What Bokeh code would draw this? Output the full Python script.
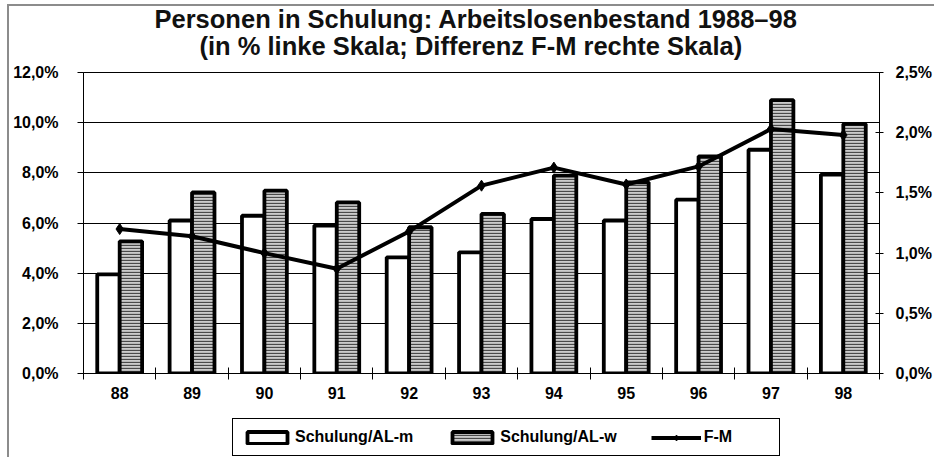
from bokeh.plotting import figure
from bokeh.layouts import column
from bokeh.models import (Range1d, LinearAxis, FixedTicker, CustomJSTickFormatter,
                          ColumnDataSource, Legend, LegendItem, Title)
from bokeh.transform import dodge
from bokeh.embed import file_html
from bokeh.resources import INLINE

# ---- data ----
years = ["88", "89", "90", "91", "92", "93", "94", "95", "96", "97", "98"]
schulung_m = [3.95, 6.10, 6.29, 5.90, 4.63, 4.83, 6.16, 6.10, 6.93, 8.92, 7.93]
schulung_w = [5.27, 7.22, 7.29, 6.82, 5.83, 6.36, 7.89, 7.62, 8.66, 10.90, 9.95]
diff_fm = [1.20, 1.14, 1.00, 0.87, 1.18, 1.56, 1.71, 1.57, 1.72, 2.03, 1.98]

title_lines = ["Personen in Schulung: Arbeitslosenbestand 1988\u201398",
               "(in % linke Skala; Differenz F-M rechte Skala)"]
left_ticks = [0, 2, 4, 6, 8, 10, 12]
right_ticks = [0, 0.5, 1.0, 1.5, 2.0, 2.5]
series_names = ["Schulung/AL-m", "Schulung/AL-w", "F-M"]

FONT = "Liberation Sans"
GREY = "#8c8c8c"

M_STYLE = dict(fill_color="white", line_color="black", line_width=3.8)
W_STYLE = dict(fill_color="#cbcbcb", hatch_pattern="horizontal_line",
               hatch_color="#4a4a4a", hatch_scale=3, hatch_weight=1.3,
               line_color="black", line_width=3.8)
L_STYLE = dict(line_color="black", line_width=4)
P_STYLE = dict(marker="diamond", size=11, fill_color="black", line_color="black")

xpos = list(range(len(years)))
src = ColumnDataSource(dict(x=xpos, m=schulung_m, w=schulung_w, fm=diff_fm))

p = figure(width=934, height=412, output_backend="svg", toolbar_location=None,
           title=None,
           x_range=Range1d(-0.5, len(years) - 0.5),
           y_range=Range1d(left_ticks[0], left_ticks[-1]),
           min_border_left=83, min_border_right=47,
           min_border_top=72, min_border_bottom=39)
p.extra_y_ranges = {"fm": Range1d(right_ticks[0], right_ticks[-1])}
p.background_fill_color = "white"
p.border_fill_color = "white"
p.outline_line_color = "black"
p.outline_line_width = 1

# outer grey frame (top and left edge) via CSS
p.stylesheets = [":host::after { content: ''; position: absolute; left: 7px; top: 4px; "
                 "right: 0px; bottom: 0px; border-left: 2px solid " + GREY + "; "
                 "border-top: 2px solid " + GREY + "; pointer-events: none; }"]

# titles (second line nearest to the frame), left-aligned with offsets so both are centred
for txt, so, off in ((title_lines[1], 26, 116), (title_lines[0], -33, 71)):
    p.add_layout(Title(text=txt, align="left", offset=off, standoff=so,
                       text_font=FONT, text_font_size="25.5px", text_font_style="bold",
                       text_color="#111111"), "above")

fmt = CustomJSTickFormatter(code="return tick.toFixed(1).replace('.', ',') + '%';")

# left axis
ya = p.yaxis[0]
ya.ticker = FixedTicker(ticks=left_ticks)
ya.formatter = fmt
ya.major_tick_in = 0
ya.major_tick_out = 6
ya.major_tick_line_color = "black"
ya.axis_line_color = "black"
ya.major_label_standoff = 19
ya.major_label_text_font = FONT
ya.major_label_text_font_size = "16px"
ya.major_label_text_font_style = "bold"
ya.major_label_text_color = "black"

p.ygrid.ticker = FixedTicker(ticks=left_ticks)
p.ygrid.grid_line_color = "black"
p.ygrid.grid_line_width = 1
p.xgrid.visible = False

# right axis
ra = LinearAxis(y_range_name="fm", ticker=FixedTicker(ticks=right_ticks), formatter=fmt,
                major_tick_in=4, major_tick_out=4, major_label_standoff=12,
                axis_line_color="black", major_tick_line_color="black",
                major_label_text_font=FONT, major_label_text_font_size="16px",
                major_label_text_font_style="bold", major_label_text_color="black")
p.add_layout(ra, "right")

# bottom axis
xa = p.xaxis[0]
xa.ticker = FixedTicker(ticks=xpos, minor_ticks=[i - 0.5 for i in range(len(years) + 1)])
xa.major_label_overrides = {i: lab for i, lab in zip(xpos, years)}
xa.major_tick_in = 0
xa.major_tick_out = 0
xa.minor_tick_in = 6
xa.minor_tick_out = 6
xa.minor_tick_line_color = "black"
xa.axis_line_color = "black"
xa.major_label_standoff = 7
xa.major_label_text_font = FONT
xa.major_label_text_font_size = "16px"
xa.major_label_text_font_style = "bold"
xa.major_label_text_color = "black"

# bars
p.vbar(x=dodge("x", -0.155, range=p.x_range), top="m", width=0.31, bottom=0,
       source=src, **M_STYLE)
p.vbar(x=dodge("x", 0.155, range=p.x_range), top="w", width=0.31, bottom=0,
       source=src, **W_STYLE)

# line
p.line("x", "fm", source=src, y_range_name="fm", **L_STYLE)
p.scatter("x", "fm", source=src, y_range_name="fm", **P_STYLE)

# ---- legend strip (separate figure so the box is not clipped) ----
# same series styles here, renderers hidden: only their legend glyphs are shown
q = figure(width=934, height=45, output_backend="svg", toolbar_location=None,
           title=None, x_axis_type=None, y_axis_type=None,
           x_range=Range1d(1000, 1001), y_range=Range1d(1000, 1001),
           min_border_left=0, min_border_right=0, min_border_top=0, min_border_bottom=0)
q.outline_line_color = None
q.xgrid.visible = False
q.ygrid.visible = False
q.background_fill_color = "white"
q.border_fill_color = "white"
q.stylesheets = [":host::after { content: ''; position: absolute; left: 7px; top: 0px; "
                 "bottom: 0px; width: 0px; border-left: 2px solid " + GREY + "; "
                 "pointer-events: none; }"]

q_m = q.vbar(x="x", top="m", width=0.31, source=src, visible=False, **M_STYLE)
q_w = q.vbar(x="x", top="w", width=0.31, source=src, visible=False, **W_STYLE)
q_l = q.line("x", "fm", source=src, visible=False, **L_STYLE)
q_p = q.scatter("x", "fm", source=src, visible=False, **P_STYLE)

leg = Legend(items=[LegendItem(label=series_names[0], renderers=[q_m]),
                    LegendItem(label=series_names[1], renderers=[q_w]),
                    LegendItem(label=series_names[2], renderers=[q_l, q_p])],
             orientation="horizontal", location=(149, 1), padding=9, margin=0,
             spacing=34, glyph_width=50, glyph_height=15, label_standoff=3,
             label_width=66, label_height=18,
             inactive_fill_alpha=0,
             border_line_color="black", border_line_width=1.5, border_line_alpha=1,
             background_fill_color="white", background_fill_alpha=1,
             label_text_font=FONT, label_text_font_style="bold",
             label_text_font_size="16px", label_text_color="black")
q.add_layout(leg, "center")

layout = column(p, q, spacing=0)
open("out.html", "w").write(file_html(layout, INLINE))
